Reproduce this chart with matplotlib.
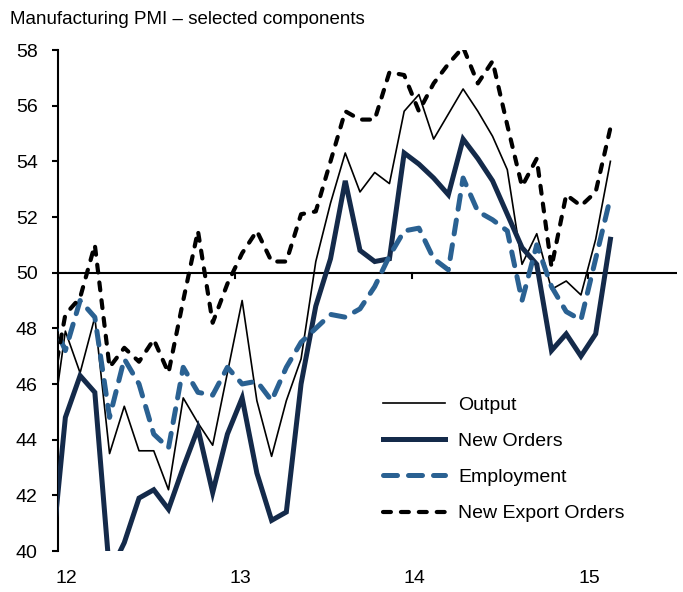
import numpy as np
import pandas as pd
import matplotlib
matplotlib.use('Agg')
import matplotlib.pyplot as plt

plt.rcParams['font.family'] = ['Liberation Sans', 'DejaVu Sans']

# monthly readings, Dec 2011 .. Feb 2015 (first month sits just left of the axis)
months = pd.date_range('2011-12-01', '2015-02-01', freq='MS')
output = [44.1, 47.9, 46.4, 48.4, 43.5, 45.2, 43.6, 43.6, 42.2, 45.5, 44.6, 43.8, 46.4,
          49.0, 45.4, 43.4, 45.4, 46.9, 50.4, 52.5, 54.3, 52.9, 53.6, 53.2, 55.8,
          56.4, 54.8, 55.7, 56.6, 55.8, 54.9, 53.7, 50.3, 51.4, 49.4, 49.7, 49.2, 51.2, 54.0]
new_orders = [39.4, 44.8, 46.3, 45.7, 39.2, 40.3, 41.9, 42.2, 41.5, 43.0, 44.4, 42.1, 44.2,
              45.5, 42.8, 41.1, 41.4, 46.0, 48.8, 50.5, 53.3, 50.8, 50.4, 50.5, 54.3,
              53.9, 53.4, 52.8, 54.8, 54.1, 53.3, 52.1, 50.9, 50.3, 47.2, 47.8, 47.0, 47.8, 51.2]
employment = [48.4, 47.2, 49.0, 48.4, 44.8, 46.9, 46.0, 44.2, 43.7, 46.6, 45.7, 45.6, 46.6,
              46.0, 46.1, 45.4, 46.6, 47.5, 48.0, 48.5, 48.4, 48.7, 49.5, 50.6, 51.5,
              51.6, 50.5, 50.1, 53.4, 52.2, 51.9, 51.5, 49.0, 51.0, 49.5, 48.6, 48.3, 50.5, 52.7]
export_orders = [45.6, 48.5, 49.1, 51.0, 46.6, 47.3, 46.8, 47.6, 46.4, 49.0, 51.5, 48.2, 49.6,
                 50.7, 51.5, 50.4, 50.4, 52.1, 52.2, 54.0, 55.8, 55.5, 55.5, 57.2, 57.1,
                 55.8, 56.8, 57.5, 58.1, 56.8, 57.6, 55.3, 53.1, 54.1, 50.2, 52.8, 52.4, 52.9, 55.2]
year_labels = ['12', '13', '14', '15']

x = (months.year - 2012) * 12 + months.month - 1

navy = '#142a4a'
blue = '#2a6192'

fig = plt.figure(figsize=(6.83, 5.92), dpi=100)
ax = fig.add_axes([58 / 683, 1 - 551 / 592, (676.7 - 58) / 683, 501 / 592])

ax.axhline(50, color='black', lw=1.5, zorder=1)
ax.plot(x, output, color='black', lw=1.2, label='Output', zorder=2)
ax.plot(x, new_orders, color=navy, lw=3.6, label='New Orders', zorder=3,
        solid_joinstyle='miter')
ax.plot(x, employment, color=blue, lw=3.6, dashes=(2.8, 2.2), dash_capstyle='round',
        label='Employment', zorder=4)
ax.plot(x, export_orders, color='black', lw=3.0, dashes=(1.9, 2.4), dash_capstyle='round',
        label='New Export Orders', zorder=5)

ax.set_xlim(-0.5, 41.5)
ax.set_ylim(40, 58)

# year ticks on the 50 line, between Dec and Jan
for b in [11.5, 23.5, 35.5]:
    ax.plot([b, b], [50, 49.8], color='black', lw=1.5, zorder=1)

for s in ['top', 'right', 'bottom']:
    ax.spines[s].set_visible(False)
ax.spines['left'].set_linewidth(1.5)

ax.set_yticks(np.arange(40, 59, 2))
ax.tick_params(axis='y', direction='out', length=4.5, width=1.5, labelsize=14, pad=10)
ax.set_xticks([0.1, 11.9, 23.7, 35.6])
ax.set_xticklabels(year_labels)
ax.tick_params(axis='x', length=0, labelsize=14, pad=14)

fig.text(10 / 683, 1 - 11 / 592, 'Manufacturing PMI \u2013 selected components',
         fontsize=13.5, va='top', ha='left')

ax.legend(loc='upper left', bbox_to_anchor=(383 / 683, 1 - 396 / 592),
          bbox_transform=fig.transFigure, frameon=False, fontsize=14,
          handlelength=3.2, handletextpad=0.67, labelspacing=0.96,
          borderpad=0, borderaxespad=0)

fig.savefig('out.png', dpi=100)
